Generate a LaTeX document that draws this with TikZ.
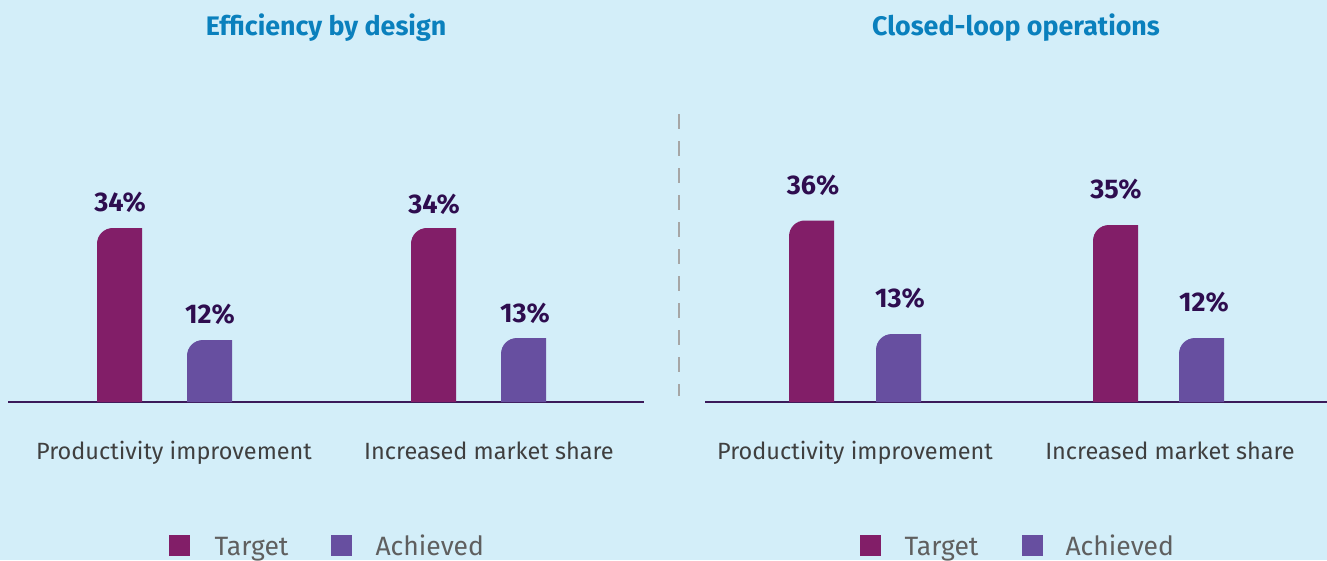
\documentclass[tikz,border=0pt]{standalone}
\usepackage{fontspec}
\setmainfont{Fira Sans}
\usepackage{xcolor}
\usepackage{tikz}

\definecolor{bgblue}{HTML}{D3EEF9}
\definecolor{titleblue}{HTML}{0A80BD}
\definecolor{targetc}{HTML}{821E68}
\definecolor{achievedc}{HTML}{674FA0}
\definecolor{valuec}{HTML}{2E0D4F}
\definecolor{axisc}{HTML}{3B1A5A}
\definecolor{catc}{HTML}{3F3F3F}
\definecolor{legc}{HTML}{5F5F5F}

\tikzset{
  title/.style={text=titleblue, anchor=base, font=\fontsize{26.8}{30}\selectfont\bfseries},
  value/.style={text=valuec, anchor=base, font=\fontsize{27}{32}\selectfont\bfseries},
  cat/.style={text=catc, anchor=base, font=\fontsize{23.5}{28}\selectfont},
  legtext/.style={text=legc, anchor=base west, font=\fontsize{26.5}{32}\selectfont},
}

\begin{document}
\begin{tikzpicture}[x=1pt, y=-1pt]
\fill[bgblue] (0,0) rectangle (1327,560);
\useasboundingbox (0,0) rectangle (1327,560);

% titles
\node[title] (t1) at (326,35) {Efficiency by design};
\node[title] (t2) at (1016,35) {Closed-loop operations};

% separator
\draw[gray!70, line width=1.5pt, dash pattern=on 15pt off 12pt] (679,114) -- (679,396);

% axes
\draw[axisc, line width=1.3pt] (8,402) -- (644,402);
\draw[axisc, line width=1.3pt] (705,402) -- (1327,402);

% bars: left, top, colour
\foreach \x/\ytop/\col in {97/228/targetc, 187/340/achievedc,
  411/228/targetc, 501/338/achievedc, 789/220.5/targetc,
  876/334/achievedc, 1093/225/targetc, 1179/338/achievedc}{
  \fill[\col] (\x,402) -- (\x,\ytop+16) .. controls (\x,\ytop+7) and (\x+7,\ytop) .. (\x+16,\ytop)
    -- (\x+45,\ytop) -- (\x+45,402) -- cycle;
}

% values
\node[value] (v1) at (120,211) {34\%};
\node[value] (v2) at (210,323) {12\%};
\node[value] (v3) at (434,213.5) {34\%};
\node[value] (v4) at (525,322.5) {13\%};
\node[value] (v5) at (813,194) {36\%};
\node[value] (v6) at (900,307.5) {13\%};
\node[value] (v7) at (1116,198) {35\%};
\node[value] (v8) at (1204,311.5) {12\%};

% categories
\node[cat] (c1) at (174,459) {Productivity improvement};
\node[cat] (c2) at (489,459) {Increased market share};
\node[cat] (c3) at (855,459) {Productivity improvement};
\node[cat] (c4) at (1170,459) {Increased market share};

% legends
\fill[targetc] (169,535) rectangle (190,556);
\node[legtext] (l1) at (211,555) {Target};
\fill[achievedc] (331,535) rectangle (352,556);
\node[legtext] (l2) at (372,555) {Achieved};
\fill[targetc] (860,535) rectangle (881,556);
\node[legtext] (l3) at (901,555) {Target};
\fill[achievedc] (1022,535) rectangle (1043,556);
\node[legtext] (l4) at (1062,555) {Achieved};
\end{tikzpicture}
\end{document}
